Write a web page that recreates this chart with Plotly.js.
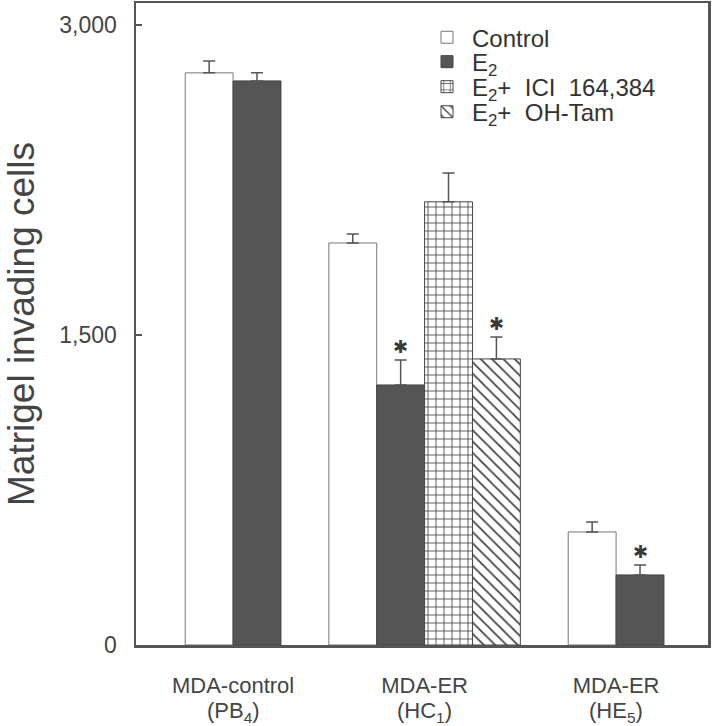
<!DOCTYPE html>
<html>
<head>
<meta charset="utf-8">
<script src="https://cdn.plot.ly/plotly-3.0.1.min.js"></script>
<style>
  html, body { margin: 0; padding: 0; background: #fff; }
  #chart { width: 714px; height: 726px; }
</style>
</head>
<body>
<div id="chart"></div>
<script>
// ---- data ----
const groupNames = ['MDA-control', 'MDA-ER', 'MDA-ER'];
const groupClones = ['(PB<sub>4</sub>)', '(HC<sub>1</sub>)', '(HE<sub>5</sub>)'];
const seriesNames = ['Control', 'E<sub>2</sub>', 'E<sub>2</sub>+&nbsp;&nbsp;ICI&nbsp;&nbsp;164,384', 'E<sub>2</sub>+&nbsp;&nbsp;OH-Tam'];
const controlVals = [2768, 1945, 547];
const e2Vals      = [2729, 1258, 339];
const iciVals     = [null, 2144, null];
const ohtamVals   = [null, 1384, null];
const controlErr  = [58, 44, 48];
const e2Err       = [39, 121, 48];
const iciErr      = [null, 140, null];
const ohtamErr    = [null, 106, null];
const controlSig  = [false, false, false];
const e2Sig       = [false, true, true];
const iciSig      = [false, false, false];
const ohtamSig    = [false, true, false];
const yTicks = [0, 1500, 3000];
const yTickText = ['0', '1,500', '3,000'];

// ---- layout helpers ----
const allVals = [controlVals, e2Vals, iciVals, ohtamVals];
const allErr = [controlErr, e2Err, iciErr, ohtamErr];
const allSig = [controlSig, e2Sig, iciSig, ohtamSig];
const BW = 0.25;
function positions(si) {
  return groupNames.map((g, gi) => {
    const present = allVals.map(v => v[gi] != null);
    const n = present.filter(Boolean).length;
    const idx = present.slice(0, si).filter(Boolean).length;
    return gi + (idx - (n - 1) / 2) * BW;
  });
}

const FONT = 'Liberation Sans, Arial, Helvetica, sans-serif';
const lineCol = '#555';
const styles = [
  { color: '#ffffff', line: { color: '#777', width: 1 } },
  { color: '#555555', line: { color: '#444', width: 1 } },
  { color: '#ffffff', line: { color: '#444', width: 1 },
    pattern: { shape: '+', size: 8, solidity: 0.2, fgcolor: '#444', bgcolor: '#ffffff', fillmode: 'replace' } },
  { color: '#ffffff', line: { color: '#444', width: 1 },
    pattern: { shape: '\\', size: 8, solidity: 0.22, fgcolor: '#444', bgcolor: '#ffffff', fillmode: 'replace' } }
];
const legendIds = ['legend', 'legend2', 'legend3', 'legend4'];
const legendY = [0.946, 0.908, 0.869, 0.830];

const traces = [];
const annotations = [];
allVals.forEach((vals, si) => {
  const xs = positions(si);
  traces.push({
    type: 'bar',
    name: seriesNames[si],
    legend: legendIds[si],
    x: xs,
    y: vals,
    width: BW,
    marker: styles[si],
    error_y: {
      type: 'data', symmetric: false,
      array: allErr[si], arrayminus: allErr[si].map(() => 0),
      color: lineCol, thickness: 1.5, width: 6
    },
    hoverinfo: 'skip'
  });
  vals.forEach((v, gi) => {
    if (v != null && allSig[si][gi]) {
      annotations.push({
        x: xs[gi], y: v + allErr[si][gi], xref: 'x', yref: 'y',
        text: '✱', showarrow: false, yanchor: 'bottom', yshift: 1,
        font: { family: 'DejaVu Sans', size: 18, color: '#3a3a3a' }
      });
    }
  });
});
// second line of each category label
groupClones.forEach((t, gi) => {
  annotations.push({
    x: gi, y: 0, xref: 'x', yref: 'paper', text: t, showarrow: false,
    yanchor: 'middle', yshift: -67,
    font: { family: FONT, size: 22, color: '#444' }
  });
});

const layout = {
  width: 714, height: 726,
  margin: { l: 136, r: 6, t: 3, b: 81 },
  paper_bgcolor: '#fff', plot_bgcolor: '#fff',
  barmode: 'overlay',
  font: { family: FONT, color: '#444', size: 22 },
  showlegend: true,
  annotations: annotations,
  xaxis: {
    range: [-0.507, 2.48],
    tickvals: groupNames.map((g, i) => i), ticktext: groupNames,
    showline: true, mirror: true, linecolor: lineCol, linewidth: 2.5,
    ticks: '', showgrid: false, zeroline: false,
    ticklabelstandoff: 19,
    tickfont: { family: FONT, size: 22, color: '#444' }
  },
  yaxis: {
    range: [0, 3106],
    tickvals: yTicks, ticktext: yTickText,
    showline: true, mirror: true, linecolor: lineCol, linewidth: 2.5,
    ticks: 'inside', ticklen: 6, tickcolor: lineCol, tickwidth: 1.5,
    showgrid: false, zeroline: false,
    ticklabelstandoff: 12,
    tickfont: { family: FONT, size: 23, color: '#444' },
    title: { text: 'Matrigel invading cells', font: { family: FONT, size: 37, color: '#444' }, standoff: 14 }
  }
};
legendIds.forEach((id, i) => {
  layout[id] = {
    x: 0.5, y: legendY[i], xanchor: 'left', yanchor: 'middle',
    bgcolor: 'rgba(0,0,0,0)', borderwidth: 0, itemwidth: 40,
    font: { family: FONT, size: 24, color: '#333' }
  };
});

Plotly.newPlot('chart', traces, layout, { displayModeBar: false, staticPlot: true });
</script>
</body>
</html>
